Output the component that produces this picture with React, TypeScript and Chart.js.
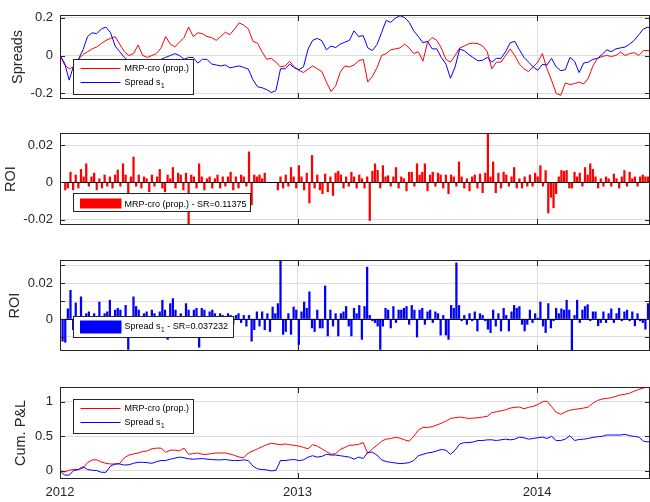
import React, { useEffect, useRef } from 'react';
import { Chart, registerables } from 'chart.js';

Chart.register(...registerables);

const FONT = '"Liberation Sans", Arial, Helvetica, sans-serif';
const AXIS = '#262626';
const GRID = '#dedede';
const RED = '#ff0000';
const BLUE = '#0000ff';

// x axis: days counted from 2012-01-01
const X_MIN = 4;
const X_MAX = 903;
const YEAR_TICKS = [4, 366, 731];
const YEAR_LABELS = ['2012', '2013', '2014'];

// Spreads (weekly samples)
const spreadMRP = [
  0, -0.05, -0.07, -0.06, -0.02, 0.005, 0.02, 0.035, 0.045, 0.063,
  0.08, 0.09, 0.1, 0.06, 0.02, 0, 0.01, 0.055, 0, -0.01,
  0, 0.01, 0.04, 0.1, 0.06, 0.045, 0.07, 0.095, 0.15, 0.1,
  0.12, 0.115, 0.1, 0.095, 0.08, 0.1, 0.123, 0.11, 0.14, 0.172,
  0.16, 0.14, 0.075, 0.065, 0.018, -0.02, -0.015, -0.035, -0.06, -0.055,
  -0.031, -0.06, -0.078, -0.09, -0.072, -0.055, -0.07, -0.085, -0.14, -0.19,
  -0.16, -0.088, -0.055, -0.06, -0.05, -0.028, -0.02, -0.14, -0.11, -0.065,
  0, 0.01, 0.03, 0.035, 0.04, 0.06, 0.04, 0.01, 0.02, -0.03,
  0.07, 0.095, 0.08, 0.04, -0.02, -0.035, 0, 0.04, 0.05, 0.062,
  0.065, 0.062, 0.05, 0.02, -0.07, -0.035, -0.035, 0, 0.034, 0,
  -0.045, -0.07, -0.085, -0.06, -0.035, 0.01, -0.07, -0.13, -0.2, -0.21,
  -0.145, -0.153, -0.148, -0.14, -0.15, -0.12, -0.055, -0.015, -0.005, 0,
  -0.005, 0, 0.018, 0, 0.01, 0.015, 0, 0.026, 0.026, 0.02,
];
const spreadS1 = [
  0, -0.04, -0.13, -0.05, -0.02, 0.03, 0.1, 0.12, 0.115, 0.14,
  0.15, 0.12, 0.05, 0.02, -0.01, -0.03, -0.04, -0.03, -0.04, -0.03,
  -0.02, -0.03, -0.02, -0.01, 0, 0.01, 0, -0.02, -0.01, -0.01,
  -0.04, -0.02, -0.02, -0.045, -0.05, -0.055, -0.05, -0.065, -0.06, -0.055,
  -0.063, -0.072, -0.128, -0.165, -0.17, -0.18, -0.195, -0.185, -0.07, -0.07,
  -0.045, -0.065, -0.075, -0.06, 0.034, 0.08, 0.09, 0.078, 0.03, 0.05,
  0.042, 0.06, 0.07, 0.08, 0.13, 0.1, 0.105, 0.04, 0.026, 0.058,
  0.12, 0.185, 0.175, 0.197, 0.21, 0.2, 0.175, 0.13, 0.1, 0.067,
  0.075, 0.035, 0.035, -0.01, -0.045, -0.12, -0.06, 0.035, 0.025, 0.005,
  -0.012, -0.028, -0.025, -0.01, -0.035, -0.015, -0.015, 0.02, 0.067, 0.075,
  0.03, -0.01, -0.035, -0.06, -0.078, -0.047, -0.05, -0.015, -0.06, -0.08,
  -0.075, -0.01, -0.03, -0.09, -0.04, -0.035, -0.02, -0.015, 0.005, 0.03,
  0.02, 0.035, 0.04, 0.045, 0.06, 0.08, 0.11, 0.14, 0.15, 0.125,
];

// ROI (samples every 4 days)
const roiMRP = [
  0, 0, -0.004, -0.003, 0.0055, -0.004, 0.004, -0.003, 0.007, 0.003,
  0.01, -0.002, 0.003, 0.005, -0.004, 0.002, -0.003, 0.004, -0.002, 0.003,
  -0.003, 0.004, 0.0067, -0.002, 0.01, 0.004, -0.006, 0.003, 0.0136, -0.002,
  0.004, -0.003, 0.003, 0.002, -0.005, 0.004, -0.002, 0.003, 0.007, -0.003,
  -0.005, 0.004, 0.002, 0.008, -0.003, 0.005, 0.004, -0.004, 0.005, -0.023,
  0.004, 0.003, -0.003, 0.01, 0.003, -0.004, 0.002, 0.003, -0.003, 0.002,
  0.004, -0.003, 0.003, -0.002, 0.003, 0.0055, -0.004, 0.003, -0.003, 0.004,
  0.003, -0.002, 0.0164, -0.012, 0.004, 0.003, 0.004, 0.002, 0.005, 0,
  0, 0, 0, -0.004, 0.003, -0.003, 0.004, -0.002, 0.008, 0.003,
  -0.003, 0.009, 0.003, -0.004, 0.005, -0.011, 0.0145, -0.003, 0.004, -0.004,
  -0.006, 0.0045, -0.005, 0.003, -0.007, 0.005, 0.006, 0.004, -0.003, 0.003,
  -0.002, 0.0055, 0.003, -0.003, 0.004, 0.002, -0.003, 0.003, -0.0204, 0.006,
  0.01, 0.0065, -0.003, 0.009, 0.003, 0.0036, -0.002, 0.003, 0.008, -0.003,
  0.003, 0.002, -0.0045, 0.0055, 0.0055, -0.002, 0.01, 0.004, 0.0055, 0.01,
  -0.0045, 0.004, 0.0055, -0.002, 0.005, 0.004, -0.003, 0.004, -0.006, 0.004,
  0.003, -0.002, 0.011, 0.003, -0.003, 0.002, -0.0045, 0.003, 0.004, -0.003,
  0.0045, -0.0055, 0.005, 0.0264, 0.003, 0.011, -0.0055, 0.005, -0.003, 0.0055,
  0.004, -0.002, 0.003, 0.008, -0.003, 0.002, -0.003, 0.003, -0.002, 0.004,
  -0.002, 0.005, 0.003, 0.009, -0.002, 0.0064, -0.0164, -0.008, -0.0136, -0.006,
  0.003, 0.0064, 0.006, 0.0064, -0.003, -0.003, 0.0055, 0.003, 0.005, -0.002,
  0.008, 0.004, 0.01, 0.007, 0.003, -0.003, 0.002, -0.002, 0.003, 0.002,
  -0.002, 0.0045, 0.002, -0.003, 0.003, 0.0064, -0.002, 0.0055, 0.002, 0.003,
  -0.002, 0.003, 0.004, 0.003, 0.003,
];
const roiS1 = [
  0, -0.0124, -0.013, 0.0057, 0.016, -0.006, 0.009, -0.005, 0.0124, -0.004,
  0.003, 0.004, -0.006, 0.003, -0.004, 0.0095, -0.005, 0.003, 0.004, 0.0105,
  -0.005, 0.005, 0.006, 0.005, -0.004, 0.0076, -0.017, -0.004, 0.0124, 0.007,
  0.005, -0.006, 0.003, 0.004, -0.005, 0.005, 0.003, -0.004, 0.004, 0.0105,
  0.005, -0.0114, 0.0086, 0.0114, 0.005, -0.005, 0.003, -0.006, 0.0086, 0.005,
  -0.004, 0.005, 0.006, -0.0158, 0.006, 0.005, -0.005, 0.004, 0.005, 0.003,
  -0.004, 0.003, 0.002, -0.005, 0.003, 0.002, -0.003, 0.002, 0.003, -0.002,
  0.002, -0.004, 0.002, -0.0124, -0.006, 0.004, -0.004, 0.004, -0.006, 0.003,
  -0.007, 0.0067, 0.003, 0.0086, 0.0333, -0.0086, -0.007, 0.003, -0.0086, 0.0067,
  0.005, -0.0143, 0.004, 0.0095, 0.006, 0.0152, -0.005, -0.007, 0.005, -0.005,
  -0.005, 0.0185, -0.0095, 0.005, -0.004, 0.003, -0.0095, 0.003, 0.004, 0.007,
  -0.004, -0.0095, 0.006, 0.003, 0.0076, -0.0114, 0.007, 0.029, 0.002, -0.001,
  -0.002, -0.004, -0.017, -0.004, 0.006, 0.005, -0.005, 0.007, -0.002, 0.005,
  0.005, 0.006, 0.007, -0.003, 0.0076, 0.005, -0.0101, 0.005, 0.006, -0.003,
  0.004, 0.005, -0.002, 0.004, 0.003, -0.009, 0.002, -0.009, -0.0114, 0.0076,
  0.006, 0.0314, 0.0076, -0.001, 0.002, -0.003, 0.003, -0.001, 0.004, -0.0067,
  0.003, 0.002, -0.001, -0.0057, -0.0076, 0.005, -0.004, 0.003, -0.0067, 0.006,
  0.002, -0.0067, 0.004, 0.0076, 0.006, 0.007, -0.003, -0.0067, -0.003, 0.005,
  -0.002, 0.003, 0.0005, 0.0095, -0.004, -0.0076, 0.0086, -0.005, -0.001, 0.006,
  0.003, 0.0057, 0.005, 0.0105, 0.005, -0.0181, 0.002, 0.0105, -0.002, 0.005,
  0.007, 0.008, -0.001, 0.004, 0.004, -0.0038, -0.002, 0.004, -0.002, 0.003,
  0.0057, -0.002, 0.003, 0.006, -0.001, 0.004, 0.005, -0.001, 0.004, -0.0038,
  0.003, -0.001, -0.002, -0.0057, 0.0086,
];

// Cumulative P&L (weekly samples)
const cumMRP = [
  0, -0.015, 0.01, 0.02, 0.02, 0.04, 0.12, 0.16, 0.16, 0.13,
  0.11, 0.1, 0.1, 0.11, 0.19, 0.23, 0.245, 0.26, 0.28, 0.29,
  0.32, 0.33, 0.33, 0.27, 0.3, 0.3, 0.29, 0.33, 0.24, 0.25,
  0.26, 0.24, 0.24, 0.25, 0.26, 0.26, 0.26, 0.245, 0.225, 0.2,
  0.19, 0.26, 0.29, 0.32, 0.35, 0.38, 0.4, 0.39, 0.38, 0.39,
  0.38, 0.37, 0.36, 0.34, 0.32, 0.38, 0.36, 0.32, 0.28, 0.24,
  0.25, 0.31, 0.34, 0.37, 0.375, 0.385, 0.41, 0.25, 0.32, 0.37,
  0.43, 0.46, 0.47, 0.485, 0.475, 0.45, 0.43, 0.5, 0.59, 0.63,
  0.63, 0.64, 0.665, 0.69, 0.72, 0.76, 0.77, 0.78, 0.77, 0.76,
  0.765, 0.77, 0.78, 0.79, 0.845, 0.855, 0.87, 0.885, 0.91, 0.92,
  0.925, 0.9, 0.92, 0.935, 0.96, 1.0, 1.01, 0.93, 0.85, 0.82,
  0.855, 0.88, 0.89, 0.9, 0.91, 0.925, 0.98, 1.02, 1.04, 1.05,
  1.06, 1.08, 1.1, 1.11, 1.125, 1.155, 1.18, 1.2, 1.22, 1.22,
];
const cumS1 = [
  0, -0.06, -0.06, 0.005, 0.02, 0.06, 0.02, 0.01, 0.005, -0.02,
  -0.02, 0.07, 0.1, 0.1, 0.085, 0.09, 0.11, 0.125, 0.125, 0.12,
  0.11, 0.135, 0.15, 0.15, 0.17, 0.185, 0.2, 0.19, 0.175, 0.17,
  0.175, 0.18, 0.17, 0.165, 0.16, 0.16, 0.165, 0.155, 0.15, 0.15,
  0.16, 0.15, 0.07, 0.03, 0.02, 0.015, 0.0, 0.01, 0.15, 0.15,
  0.16, 0.165, 0.15, 0.16, 0.2, 0.22, 0.2, 0.21, 0.24, 0.23,
  0.23, 0.22, 0.21, 0.2, 0.17, 0.2, 0.18, 0.27, 0.27, 0.23,
  0.16, 0.135, 0.125, 0.115, 0.105, 0.11, 0.12, 0.15, 0.22, 0.24,
  0.26, 0.27, 0.29, 0.31, 0.3, 0.24, 0.3, 0.39, 0.41, 0.41,
  0.42, 0.44, 0.44, 0.45, 0.45, 0.44, 0.45, 0.46, 0.45, 0.46,
  0.49, 0.48, 0.46, 0.47, 0.48, 0.49, 0.47, 0.5, 0.44, 0.44,
  0.46, 0.51, 0.44, 0.455, 0.46, 0.47, 0.485, 0.495, 0.5, 0.52,
  0.52, 0.52, 0.52, 0.53, 0.51, 0.5, 0.49, 0.43, 0.42, 0.44,
];

const weekDays = spreadMRP.map((_, i) => X_MIN + 7 * i);
const barDays = roiMRP.map((_, i) => X_MIN + 4 * i);

const LABEL_MRP = 'MRP-cro (prop.)';
const LABEL_S1 = 'Spread s_{1}';
const LABEL_ROI_MRP = 'MRP-cro (prop.) - SR=0.11375';
const LABEL_ROI_S1 = 'Spread s_{1} - SR=0.037232';

type LegendSpec = {
  kind: 'line' | 'patch';
  dx: number; dy: number; w: number; h: number;
  rowY: number[]; patchY?: number; patchH?: number;
  items: { label: string; color: string }[];
};

type Panel = {
  type: 'line' | 'bar';
  top: number; bottom: number;
  yMin: number; yMax: number;
  yTicks: number[]; yLabeled: number[];
  title: string; titlePad: number;
  showX: boolean; baseline: boolean;
  datasets: any[];
  legend: LegendSpec;
};

const toXY = (xs: number[], ys: number[]) => ys.map((y, i) => ({ x: xs[i], y }));

const lineDs = (label: string, xs: number[], ys: number[], color: string, order: number) => ({
  label, data: toXY(xs, ys), borderColor: color, backgroundColor: color,
  borderWidth: 1, pointRadius: 0, tension: 0, fill: false, order,
});
const barDs = (label: string, xs: number[], ys: number[], color: string) => ({
  label, data: toXY(xs, ys), backgroundColor: color, borderWidth: 0, barThickness: 1.6,
});

const panels: Panel[] = [
  {
    type: 'line', top: 7, bottom: 99, yMin: -0.2293, yMax: 0.2146,
    yTicks: [-0.2, 0, 0.2], yLabeled: [-0.2, 0, 0.2], title: 'Spreads', titlePad: 8.8,
    showX: false, baseline: false,
    datasets: [lineDs(LABEL_MRP, weekDays, spreadMRP, RED, 1), lineDs(LABEL_S1, weekDays, spreadS1, BLUE, 0)],
    legend: { kind: 'line', dx: 13, dy: 44, w: 120, h: 35, rowY: [9, 23],
      items: [{ label: LABEL_MRP, color: RED }, { label: LABEL_S1, color: BLUE }] },
  },
  {
    type: 'bar', top: 133, bottom: 225, yMin: -0.0228, yMax: 0.0265,
    yTicks: [-0.02, 0, 0.02], yLabeled: [-0.02, 0, 0.02], title: 'ROI', titlePad: 2.6,
    showX: false, baseline: true,
    datasets: [barDs(LABEL_ROI_MRP, barDays, roiMRP, RED)],
    legend: { kind: 'patch', dx: 13, dy: 60, w: 177, h: 18, rowY: [11], patchY: 5, patchH: 10,
      items: [{ label: LABEL_ROI_MRP, color: RED }] },
  },
  {
    type: 'bar', top: 260, bottom: 351, yMin: -0.0179, yMax: 0.033,
    yTicks: [-0.01, 0, 0.01, 0.02, 0.03], yLabeled: [0, 0.02], title: 'ROI', titlePad: 6.3,
    showX: false, baseline: true,
    datasets: [barDs(LABEL_ROI_S1, barDays, roiS1, BLUE)],
    legend: { kind: 'patch', dx: 13, dy: 56, w: 160, h: 21, rowY: [10], patchY: 4, patchH: 13,
      items: [{ label: LABEL_ROI_S1, color: BLUE }] },
  },
  {
    type: 'line', top: 387, bottom: 479, yMin: -0.117, yMax: 1.215,
    yTicks: [0, 0.5, 1], yLabeled: [0, 0.5, 1], title: 'Cum. P&L', titlePad: 12.3,
    showX: true, baseline: false,
    datasets: [lineDs(LABEL_MRP, weekDays, cumMRP, RED, 1), lineDs(LABEL_S1, weekDays, cumS1, BLUE, 0)],
    legend: { kind: 'line', dx: 13, dy: 12, w: 120, h: 34, rowY: [9, 23],
      items: [{ label: LABEL_MRP, color: RED }, { label: LABEL_S1, color: BLUE }] },
  },
];

const fmt = (v: number) => String(Math.round(v * 1e6) / 1e6);

function drawRich(ctx: CanvasRenderingContext2D, text: string, x: number, y: number) {
  const parts = text.split(/_\{([^}]*)\}/);
  let cx = x;
  parts.forEach((p, idx) => {
    if (!p) return;
    if (idx % 2 === 0) {
      ctx.font = `9px ${FONT}`;
      ctx.fillText(p, cx, y);
    } else {
      ctx.font = `6.5px ${FONT}`;
      ctx.fillText(p, cx + 0.5, y + 3.3);
    }
    cx += ctx.measureText(p).width + (idx % 2 === 1 ? 0.5 : 0);
  });
}

function makePlugin(p: Panel) {
  return {
    id: 'matlabAxes',
    afterDatasetsDraw(chart: any) {
      const { ctx, chartArea: a, scales } = chart;
      const L = Math.round(a.left), R = Math.round(a.right), T = Math.round(a.top), B = Math.round(a.bottom);
      ctx.save();
      ctx.lineWidth = 1;
      const seg = (x1: number, y1: number, x2: number, y2: number) => {
        ctx.beginPath(); ctx.moveTo(x1, y1); ctx.lineTo(x2, y2); ctx.stroke();
      };
      if (p.baseline) {
        const y = Math.round(scales.y.getPixelForValue(0)) + 0.5;
        ctx.strokeStyle = '#000';
        seg(L, y, R, y);
      }
      ctx.strokeStyle = AXIS;
      for (const t of scales.y.ticks) {
        const y = Math.round(scales.y.getPixelForValue(t.value)) + 0.5;
        seg(L, y, L + 5, y);
        seg(R - 5, y, R, y);
      }
      for (const t of scales.x.ticks) {
        const x = Math.round(scales.x.getPixelForValue(t.value)) + 0.5;
        if (x <= L + 1 || x >= R - 1) continue;
        seg(x, T, x, T + 6);
        seg(x, B - 6, x, B);
      }
      ctx.strokeRect(L + 0.5, T + 0.5, R - L - 1, B - T - 1);
      ctx.restore();
    },
    afterDraw(chart: any) {
      const { ctx, chartArea: a } = chart;
      const lg = p.legend;
      const bx = Math.round(a.left + lg.dx) + 0.5;
      const by = Math.round(a.top + lg.dy) + 0.5;
      ctx.save();
      ctx.fillStyle = '#ffffff';
      ctx.fillRect(bx, by, lg.w, lg.h);
      ctx.strokeStyle = AXIS;
      ctx.lineWidth = 1;
      ctx.strokeRect(bx, by, lg.w, lg.h);
      ctx.textAlign = 'left';
      ctx.textBaseline = 'middle';
      lg.items.forEach((it, j) => {
        const ry = by + lg.rowY[j];
        if (lg.kind === 'line') {
          ctx.strokeStyle = it.color;
          ctx.beginPath();
          ctx.moveTo(bx + 7, ry);
          ctx.lineTo(bx + 47, ry);
          ctx.stroke();
        } else {
          ctx.fillStyle = it.color;
          ctx.fillRect(bx + 6.5, by + (lg.patchY || 0), 41.5, lg.patchH || 10);
        }
        ctx.fillStyle = '#000';
        drawRich(ctx, it.label, bx + 51, ry);
      });
      ctx.restore();
    },
  };
}

function buildConfig(p: Panel): any {
  const xHeight = p.showX ? 23 : 0;
  return {
    type: p.type,
    data: { datasets: p.datasets },
    options: {
      animation: false,
      responsive: false,
      devicePixelRatio: 1,
      events: [],
      layout: { padding: { top: p.top, bottom: 502 - p.bottom - xHeight, left: 0, right: 0 } },
      plugins: { legend: { display: false }, tooltip: { enabled: false }, title: { display: false } },
      scales: {
        x: {
          type: 'linear', min: X_MIN, max: X_MAX, offset: false,
          afterBuildTicks: (s: any) => { s.ticks = YEAR_TICKS.map((v) => ({ value: v })); },
          afterFit: (s: any) => { s.height = xHeight; },
          grid: { color: GRID, drawTicks: false, offset: false, lineWidth: 1 },
          border: { display: false },
          ticks: {
            display: p.showX, autoSkip: false, maxRotation: 0, padding: 5.5,
            color: AXIS, font: { family: FONT, size: 13 },
            callback: (v: number) => { const i = YEAR_TICKS.indexOf(v); return i >= 0 ? YEAR_LABELS[i] : ''; },
          },
        },
        y: {
          type: 'linear', min: p.yMin, max: p.yMax,
          afterBuildTicks: (s: any) => { s.ticks = p.yTicks.map((v) => ({ value: v })); },
          afterFit: (s: any) => { s.width = 60; },
          grid: { color: GRID, drawTicks: false, lineWidth: 1 },
          border: { display: false },
          ticks: {
            padding: 7, color: AXIS, font: { family: FONT, size: 13 },
            callback: (v: number) => (p.yLabeled.some((l) => Math.abs(l - v) < 1e-9) ? fmt(v) : ''),
          },
          title: {
            display: true, text: p.title, color: AXIS,
            font: { family: FONT, size: 14.5 }, padding: { top: p.titlePad, bottom: 0 },
          },
        },
      },
    },
    plugins: [makePlugin(p)],
  };
}

export default function App() {
  const refs = useRef<(HTMLCanvasElement | null)[]>([]);
  useEffect(() => {
    const charts = panels.map((p, i) => new Chart(refs.current[i] as HTMLCanvasElement, buildConfig(p)));
    return () => charts.forEach((c) => c.destroy());
  }, []);
  return (
    <div style={{ position: 'fixed', left: 0, top: 0, width: 650, height: 502, background: '#ffffff' }}>
      {panels.map((_, i) => (
        <canvas
          key={i}
          ref={(el) => { refs.current[i] = el; }}
          width={650}
          height={502}
          style={{ position: 'absolute', left: 0, top: 0, width: 650, height: 502 }}
        />
      ))}
    </div>
  );
}
